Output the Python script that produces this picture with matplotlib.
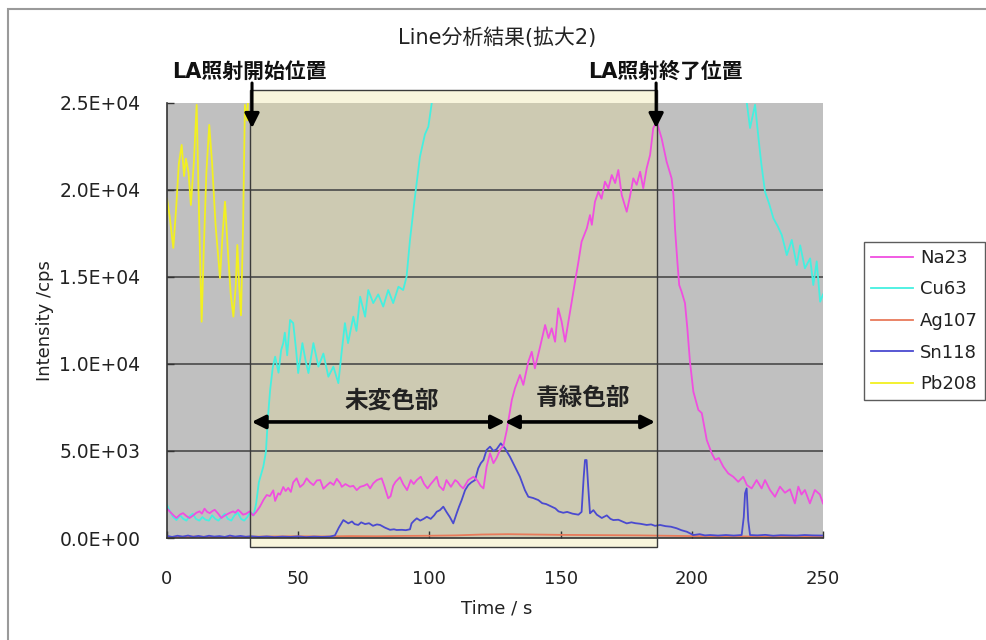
import matplotlib
matplotlib.use("Agg")
import matplotlib.pyplot as plt
from matplotlib.patches import Rectangle
from matplotlib.ticker import FuncFormatter

plt.rcParams['font.family'] = ['DejaVu Sans', 'Noto Sans CJK JP']

# ---------------- data ----------------
na_t = [0, 1, 2.5, 3.6, 5, 6.1, 7.5, 8.6, 10, 11.2, 12.4, 13.3, 14.3, 15.3, 16.3, 17.3, 18.2, 19.5,
        20.7, 21.6, 22.6, 24, 25.2, 26, 27.1, 28, 29, 30.2, 31.5, 32.8, 34, 35.4, 36.8, 38, 39.2,
        40.5, 41.2, 42.4, 43.1, 44.3, 45.2, 46.2, 47.2, 48.1, 49.4, 50.7, 52, 53.2, 54.5, 55.8,
        57.1, 58.4, 59.6, 61, 62.2, 63.5, 64.7, 66, 66.6, 68, 69.7, 71, 72.3, 73.6, 75, 76.3, 77.4,
        78.6, 80, 81.8, 82.8, 84.3, 85.2, 86.2, 87.1, 88.8, 90, 91.5, 92.9, 94, 95.2, 96.7, 98,
        99.3, 100.5, 101.8, 102.8, 103.7, 105.3, 106.5, 107.5, 108.2, 109.8, 110.7, 111.8, 112.9,
        114.8, 116.8, 118.3, 119.5, 120.6, 121.8, 123.1, 124.4, 125.6, 126.9, 128.2, 129.5, 131.4,
        132.6, 134.5, 135.8, 137.7, 139, 140.2, 142.2, 144.1, 145.4, 146.6, 147.9, 149.1, 150.4,
        151.7, 153.6, 155.5, 156.8, 158, 160, 161.2, 161.9, 163.1, 164.4, 165.6, 166.9, 168.2,
        169.5, 170.8, 172, 173.3, 175.2, 176.4, 177.7, 179, 180.3, 181.5, 182.8, 184.1, 185.3,
        186.6, 188.5, 190.4, 192.3, 193, 193.6, 194.5, 195.2, 196.1, 197.4, 198.3, 199.3, 200.6,
        202.5, 203.8, 205.7, 207.6, 208.9, 210.3, 212, 213.9, 215.8, 217.7, 219.6, 221, 222.8,
        224.7, 226.6, 227.9, 229.8, 231.7, 233.6, 235.5, 237.4, 239.3, 240.6, 241.8, 243.1, 245,
        246.9, 248.8, 250]
na_v = [1700, 1530, 1300, 1150, 1350, 1430, 1250, 1150, 1300, 1450, 1530, 1400, 1690, 1500, 1430,
        1550, 1620, 1400, 1150, 1250, 1340, 1450, 1530, 1450, 1620, 1500, 1340, 1400, 1530, 1300,
        1500, 1800, 2200, 2470, 2410, 2740, 2130, 2570, 2490, 2930, 2700, 2880, 2650, 3200, 3430,
        2930, 3100, 3430, 3200, 3040, 3310, 3330, 2830, 3040, 3200, 3050, 3400, 3150, 2940, 3100,
        2950, 3000, 2750, 2940, 3000, 3100, 2850, 3140, 3330, 3430, 3000, 2280, 2400, 3000, 3230,
        3490, 3100, 2750, 3330, 3100, 3330, 3520, 3100, 2850, 3100, 3330, 3520, 3000, 2750, 3330,
        3100, 2940, 3330, 3230, 3000, 2850, 3330, 3520, 3300, 3000, 2850, 4100, 4870, 4300, 4600,
        5060, 5300, 6200, 7930, 8600, 9370, 8800, 10130, 10700, 9750, 11000, 12240, 11490, 12050,
        11280, 13200, 12430, 11280, 13010, 14730, 15880, 17030, 17800, 18560, 18000, 19330, 19900,
        19500, 20480, 20100, 20860, 20400, 21150, 19710, 18750, 19600, 20670, 20300, 21050, 20100,
        21250, 22010, 23550, 23930, 22970, 21630, 20670, 19710, 17800, 15880, 14540, 14160, 13500,
        12050, 10130, 8410, 7360, 7180, 5630, 4870, 4490, 4600, 4100, 3710, 3520, 3230, 3520, 3040,
        2850, 3330, 2850, 3330, 2760, 2370, 2950, 2600, 2800, 1990, 2950, 2500, 2760, 1990, 2760,
        2500, 1990]

cu_t = [0, 1.2, 2.4, 3.6, 5, 6.2, 7.4, 8.6, 9.8, 11, 12.3, 13.5, 14.7, 16, 17.2, 18.4, 19.6, 20.8,
        22, 23.2, 24.5, 25.7, 27, 28.2, 29.4, 30.6, 31.8, 33, 34, 35, 36.7, 37.7, 38.5, 39.3, 40.3,
        41.2, 42.5, 43.5, 44.3, 44.9, 45.8, 46.9, 48.1, 49.2, 50, 51.6, 52.8, 53.9, 55.8, 57.7,
        59.6, 61.5, 63.4, 65.3, 66.5, 67.8, 69, 71, 72.2, 73.6, 75.5, 76.7, 78.6, 80.5, 82.4, 84.3,
        86.2, 88.2, 90, 91.3, 92.6, 94.5, 96.4, 98.3, 99.6, 100.9, 102, 110, 210, 219.5, 220.9,
        222.2, 224.1, 225.4, 226.5, 227.9, 229.5, 231.1, 232.8, 234.3, 236.2, 238.1, 240, 241.3,
        243.1, 245.1, 246.3, 247.6, 248.9, 250]
cu_v = [1900, 1500, 1200, 1030, 1300, 1100, 1000, 1250, 1400, 1100, 1000, 1200, 1050, 1000, 1300,
        1100, 1000, 1200, 1400, 1100, 1000, 1300, 1450, 1100, 1000, 1200, 1500, 1300, 2000, 3200,
        4100, 4960, 7000, 8500, 9800, 10420, 9500, 10800, 11200, 11800, 10500, 12530, 12350, 10800,
        9480, 11200, 10200, 9480, 11200, 9850, 10600, 9270, 9850, 8900, 10600, 12350, 11200, 12720,
        11900, 13870, 12720, 14250, 13500, 14000, 13300, 14250, 13500, 14440, 14250, 15020, 17130,
        19620, 21910, 23200, 23640, 25000, 28000, 35000, 35000, 27000, 25070, 23560, 24900, 23000,
        21500, 19900, 19200, 18370, 17900, 17410, 16260, 17130, 15690, 16820, 15500, 16070, 14540,
        15900, 13580, 14000]

ag_t = [0, 10, 20, 30, 40, 50, 60, 70, 80, 90, 100, 110, 120, 130, 140, 150, 160, 170, 180, 190,
        200, 210, 220, 230, 240, 250]
ag_v = [60, 80, 60, 70, 90, 100, 90, 110, 100, 120, 130, 150, 200, 220, 200, 180, 170, 160, 150,
        130, 110, 100, 90, 80, 80, 70]

sn_t = [0, 2, 4, 6, 8, 10, 12, 14, 16, 18, 20, 22, 24, 26, 28, 30, 32, 35, 38, 41, 44, 47, 50, 53,
        56, 59, 62.1, 64, 65.5, 67.2, 68, 69.1, 70.5, 71.5, 72.9, 74, 75.5, 77, 78.5, 80, 81.2, 83,
        85, 86.5, 87.5, 89.5, 91, 92.6, 93.2, 94.2, 95.2, 96.5, 97.8, 99, 100.5, 101.8, 102.8, 104,
        105.3, 106.5, 107.8, 109.1, 110.4, 111.3, 112.3, 113.6, 114.8, 116, 117.4, 118.6, 119.6,
        120.6, 121.8, 123.1, 124.4, 125.6, 127.2, 128.8, 130.7, 132.6, 134.5, 136.4, 137.7, 139.5,
        141.5, 143, 144.5, 146.6, 148, 149.2, 151, 152.5, 154.5, 156.8, 158, 158.8, 159.3, 159.9,
        160.5, 161.2, 162.5, 163.8, 165.7, 167.6, 169, 170.1, 172, 173.5, 175.2, 177, 178.5, 180.3,
        182.8, 184.5, 186, 187.9, 190, 192, 194.2, 196, 198.1, 200.6, 203, 205, 207, 210, 213, 216,
        219, 219.8, 220.3, 220.9, 221.5, 222.2, 225, 228, 231, 234, 237, 240, 243, 246, 250]
sn_v = [120, 60, 130, 80, 140, 70, 120, 60, 130, 80, 110, 60, 140, 80, 120, 70, 100, 60, 90, 50,
        80, 60, 90, 50, 80, 60, 80, 150, 600, 1030, 950, 840, 950, 800, 750, 900, 800, 850, 700,
        780, 750, 600, 470, 500, 460, 470, 450, 500, 840, 1000, 1130, 1000, 1100, 1220, 1100, 1300,
        1510, 1600, 1800, 1500, 1200, 840, 1420, 1800, 2180, 2750, 3040, 3200, 3330, 4000, 4300,
        4480, 5060, 5250, 5000, 5100, 5440, 5150, 4670, 4100, 3520, 2750, 2370, 2300, 2180, 2000,
        1950, 1800, 1700, 1530, 1450, 1500, 1400, 1340, 1500, 3500, 4480, 4480, 3000, 1420, 1600,
        1340, 1150, 1300, 1100, 1030, 1050, 950, 840, 900, 850, 820, 750, 780, 700, 750, 680, 650,
        560, 450, 360, 170, 220, 150, 170, 140, 170, 140, 170, 1200, 2570, 2850, 1000, 170, 150,
        180, 130, 160, 150, 140, 170, 150, 140]

pb_t = [0, 1, 2.4, 3.5, 4.5, 5.6, 6.5, 7.2, 8.2, 9.1, 10.2, 11.3, 12.3, 13.2, 14, 15, 16.1, 17.2,
        18.5, 20.2, 21.2, 22.1, 23.2, 24.3, 25.3, 26.2, 26.8, 27.5, 28.2, 29, 29.7, 30.6, 31.3, 32]
pb_v = [19500, 18500, 16670, 19000, 21500, 22590, 20800, 21800, 21000, 19140, 21500, 24890, 18000,
        12430, 16500, 21000, 23740, 21500, 18000, 14940, 17500, 19330, 16500, 14000, 12720, 14500,
        16840, 14500, 12800, 18000, 24890, 24000, 27000, 30000]

series_names = ['Na23', 'Cu63', 'Ag107', 'Sn118', 'Pb208']
series_colors = ['#f04ee0', '#44f0e0', '#e87a5a', '#4a4ad0', '#f2f020']

x_ticks = [0, 50, 100, 150, 200, 250]
y_ticks = [0, 5000, 10000, 15000, 20000, 25000]

title_text = 'Line分析結果(拡大2)'
start_label = 'LA照射開始位置'
end_label = 'LA照射終了位置'
la_start, la_end = 32.4, 186.4
region_split = 128.8
region1_label = '未変色部'
region2_label = '青緑色部'

# ---------------- figure ----------------
W, H = 987, 640
fig = plt.figure(figsize=(W / 100, H / 100), dpi=100)
fig.patch.set_facecolor('white')

ax = fig.add_axes([167 / W, 1 - 538 / H, 656 / W, 435 / H])
ax.set_facecolor('#c0c0c0')
ax.set_xlim(x_ticks[0], x_ticks[-1])
ax.set_ylim(y_ticks[0], y_ticks[-1])

# outer chart frame
fig.patches.append(Rectangle((8 / W, -0.02), 1.05, 1 - 9 / H + 0.02, transform=fig.transFigure,
                             fill=False, edgecolor='#9a9a9a', linewidth=1.5, zorder=0))

# translucent highlight of the irradiated span
ax.add_patch(Rectangle((31.6, -520), 186.7 - 31.6, 25750 + 520, facecolor='#ebe195', alpha=0.32,
                       edgecolor='none', zorder=0.2, clip_on=False))
ax.add_patch(Rectangle((31.6, -520), 186.7 - 31.6, 25750 + 520, facecolor='none',
                       edgecolor='#3a3a3a', linewidth=1.0, zorder=3, clip_on=False))

# gridlines
for yv in y_ticks[1:-1]:
    ax.axhline(yv, color='#4a4a4a', linewidth=1.2, zorder=0.5)

data = [(na_t, na_v), (cu_t, cu_v), (ag_t, ag_v), (sn_t, sn_v), (pb_t, pb_v)]
order = [2, 3, 1, 4, 0]
lines = {}
for i in order:
    t, v = data[i]
    ln, = ax.plot(t, v, color=series_colors[i], linewidth=1.3, label=series_names[i], zorder=2)
    lines[i] = ln

ax.set_xticks(x_ticks)
ax.set_yticks(y_ticks)
ax.yaxis.set_major_formatter(FuncFormatter(lambda v, p: '%.1E' % v))
ax.tick_params(axis='x', direction='in', length=5, width=1, color='#333333', pad=23,
               labelsize=13, labelcolor='#222222')
ax.tick_params(axis='y', direction='in', length=5, width=1, color='#333333', pad=19,
               labelsize=13.5, labelcolor='#222222')
for s in ['top', 'right']:
    ax.spines[s].set_visible(False)
for s in ['left', 'bottom']:
    ax.spines[s].set_color('#333333')
    ax.spines[s].set_linewidth(1.2)
    ax.spines[s].set_zorder(2.5)

ax.set_ylabel('Intensity /cps', fontsize=13, color='#222222')
ax.yaxis.set_label_coords(-0.172, 0.5)
ax.set_xlabel('Time / s', fontsize=13, color='#222222')
ax.xaxis.set_label_coords(0.503, -0.142)

fig.text(497 / W, 1 - 38 / H, title_text, ha='center', va='center', fontsize=15, color='#222222')
fig.text(249 / W, 1 - 72 / H, start_label, ha='center', va='center', fontsize=15,
         fontweight='bold', color='#111111')
fig.text(665 / W, 1 - 72 / H, end_label, ha='center', va='center', fontsize=15,
         fontweight='bold', color='#111111')

# vertical arrows marking start / end
for tx in (la_start, la_end):
    ax.annotate('', xy=(tx, 23560), xytext=(tx, 26150), annotation_clip=False,
                arrowprops=dict(arrowstyle='-|>', color='black', lw=2.2, mutation_scale=22,
                                shrinkA=0, shrinkB=0), zorder=5)

# horizontal double arrows
arrow_y = 6670
for a, b in ((la_start - 0.1, region_split), (region_split, la_end - 0.4)):
    ax.annotate('', xy=(b, arrow_y), xytext=(a, arrow_y), annotation_clip=False,
                arrowprops=dict(arrowstyle='<|-|>', color='black', lw=2.6, mutation_scale=20,
                                shrinkA=0, shrinkB=0), zorder=5)
ax.text(85.7, 7930, region1_label, ha='center', va='center', fontsize=17, fontweight='bold',
        color='#222222', zorder=5)
ax.text(158.6, 8050, region2_label, ha='center', va='center', fontsize=17, fontweight='bold',
        color='#222222', zorder=5)

handles = [lines[i] for i in range(5)]
leg = fig.legend(handles, series_names, loc='center left', bbox_to_anchor=(864 / W, 1 - 321 / H),
                 bbox_transform=fig.transFigure, fontsize=13, frameon=True, fancybox=False,
                 edgecolor='#333333', handlelength=2.3, handletextpad=0.4, labelspacing=0.75,
                 borderpad=0.4, borderaxespad=0)
leg.get_frame().set_linewidth(1.0)
for txt in leg.get_texts():
    txt.set_color('#222222')

fig.savefig('out.png', dpi=100, facecolor='white')
